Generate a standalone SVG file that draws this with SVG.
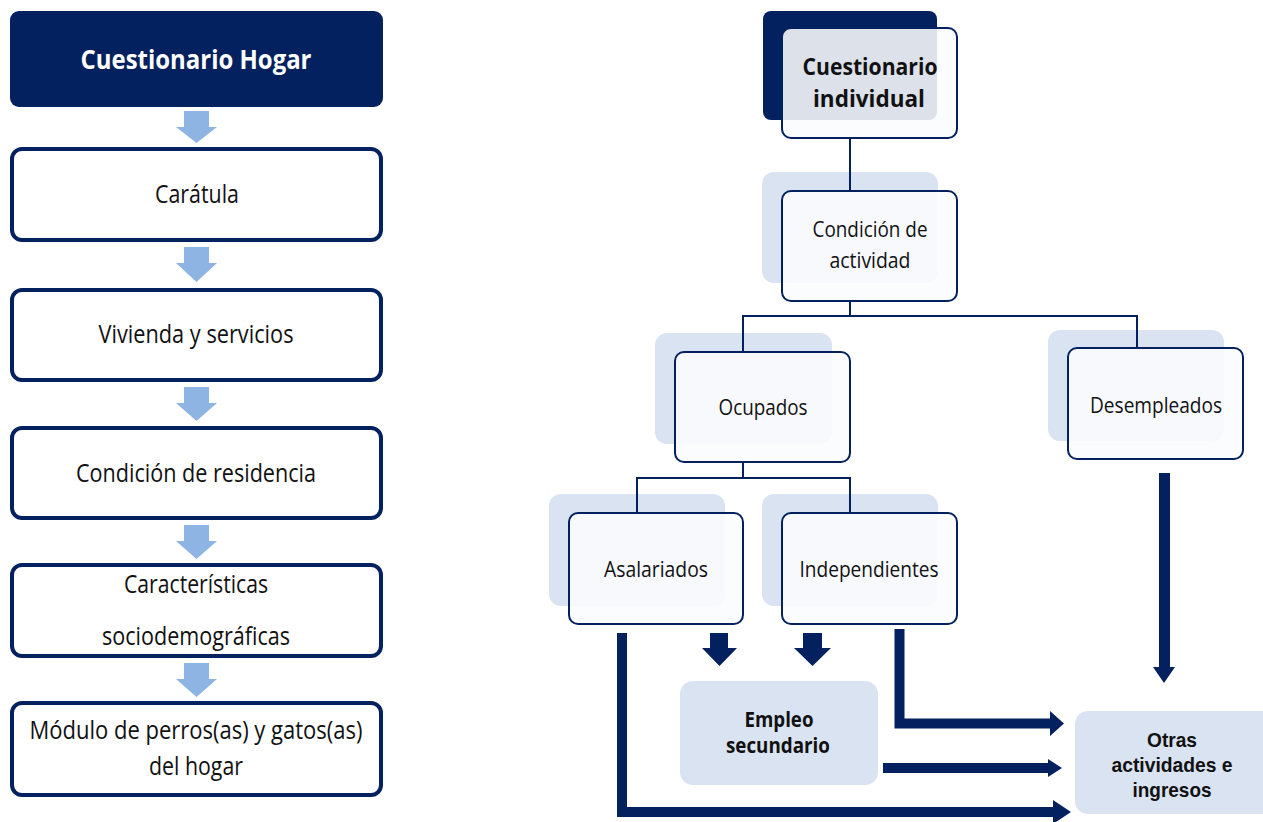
<svg xmlns="http://www.w3.org/2000/svg" width="1263" height="822" viewBox="0 0 1263 822">
<style>
  .t{font-family:"Open Sans","Noto Sans","Liberation Sans",sans-serif;fill:#111;text-anchor:middle}
  .b{font-weight:bold}
  .n{font-family:"Liberation Sans","Open Sans",sans-serif}
  .lbox{fill:#fff;stroke:#03215e;stroke-width:4}
  .back{fill:#dae3f1}
  .front{fill:#fbfcfe;fill-opacity:0.88;stroke:#03215e;stroke-width:2}
  .la{fill:#8eb4e3}
  .da{fill:#03215e}
  .con{fill:none;stroke:#03215e;stroke-width:2}
  .thick{fill:none;stroke:#03215e;stroke-width:10}
</style>
<rect width="1263" height="822" fill="#fff"/>

<!-- Left column -->
<g id="hogar">
  <rect x="10" y="11" width="373" height="96" rx="9" fill="#03215e"/>
  <text class="t b" x="196" y="69" font-size="27" style="fill:#fff" textLength="231" lengthAdjust="spacingAndGlyphs">Cuestionario Hogar</text>
</g>
<g id="caratula">
  <rect class="lbox" x="12" y="149" width="369" height="91" rx="10"/>
  <text class="t" x="197" y="203" font-size="25" textLength="84" lengthAdjust="spacingAndGlyphs">Carátula</text>
</g>
<g id="vivienda">
  <rect class="lbox" x="12" y="290" width="369" height="90" rx="10"/>
  <text class="t" x="196" y="343" font-size="25" textLength="195" lengthAdjust="spacingAndGlyphs">Vivienda y servicios</text>
</g>
<g id="residencia">
  <rect class="lbox" x="12" y="428" width="369" height="90" rx="10"/>
  <text class="t" x="196" y="482" font-size="25" textLength="240" lengthAdjust="spacingAndGlyphs">Condición de residencia</text>
</g>
<g id="sociodemograficas">
  <rect class="lbox" x="12" y="565" width="369" height="91" rx="10"/>
  <text class="t" x="196" y="593" font-size="25" textLength="144" lengthAdjust="spacingAndGlyphs">Características</text>
  <text class="t" x="196" y="645" font-size="25" textLength="188" lengthAdjust="spacingAndGlyphs">sociodemográficas</text>
</g>
<g id="modulo">
  <rect class="lbox" x="12" y="703" width="369" height="92" rx="10"/>
  <text class="t" x="196" y="739" font-size="25" textLength="333" lengthAdjust="spacingAndGlyphs">Módulo de perros(as) y gatos(as)</text>
  <text class="t" x="196" y="775" font-size="25" textLength="94" lengthAdjust="spacingAndGlyphs">del hogar</text>
</g>

<!-- Right tree nodes -->
<g id="individual">
  <rect x="763" y="11" width="174" height="109" rx="8" fill="#03215e"/>
  <rect class="front" x="782" y="28" width="175" height="110" rx="9"/>
  <text class="t b" x="870" y="75" font-size="23" textLength="135" lengthAdjust="spacingAndGlyphs">Cuestionario</text>
  <text class="t b" x="869" y="107" font-size="23" textLength="112" lengthAdjust="spacingAndGlyphs">individual</text>
</g>
<g id="condicion">
  <rect class="back" x="762" y="172" width="176" height="111" rx="12"/>
  <rect class="front" x="782" y="191" width="175" height="110" rx="9"/>
  <text class="t" x="870" y="237" font-size="22" textLength="115" lengthAdjust="spacingAndGlyphs">Condición de</text>
  <text class="t" x="870" y="268" font-size="22" textLength="81" lengthAdjust="spacingAndGlyphs">actividad</text>
</g>
<g id="ocupados">
  <rect class="back" x="655" y="333" width="177" height="111" rx="12"/>
  <rect class="front" x="675" y="352" width="175" height="110" rx="9"/>
  <text class="t" x="763" y="415" font-size="22" textLength="89" lengthAdjust="spacingAndGlyphs">Ocupados</text>
</g>
<g id="desempleados">
  <rect class="back" x="1048" y="330" width="176" height="111" rx="12"/>
  <rect class="front" x="1068" y="348" width="175" height="111" rx="9"/>
  <text class="t" x="1156" y="413" font-size="22" textLength="132" lengthAdjust="spacingAndGlyphs">Desempleados</text>
</g>
<g id="asalariados">
  <rect class="back" x="549" y="494" width="176" height="112" rx="12"/>
  <rect class="front" x="569" y="513" width="174" height="111" rx="9"/>
  <text class="t" x="656" y="577" font-size="22" textLength="104" lengthAdjust="spacingAndGlyphs">Asalariados</text>
</g>
<g id="independientes">
  <rect class="back" x="762" y="494" width="176" height="112" rx="12"/>
  <rect class="front" x="782" y="513" width="175" height="111" rx="9"/>
  <text class="t" x="869" y="577" font-size="22" textLength="139" lengthAdjust="spacingAndGlyphs">Independientes</text>
</g>
<g id="empleo">
  <rect class="back" x="680" y="681" width="198" height="104" rx="13"/>
  <text class="t b" x="779" y="727" font-size="21" textLength="69" lengthAdjust="spacingAndGlyphs">Empleo</text>
  <text class="t b" x="778" y="753" font-size="21" textLength="104" lengthAdjust="spacingAndGlyphs">secundario</text>
</g>
<g id="otras">
  <rect class="back" x="1075" y="711" width="200" height="103" rx="13"/>
  <text class="t b n" x="1172" y="747" font-size="21" textLength="50" lengthAdjust="spacingAndGlyphs">Otras</text>
  <text class="t b n" x="1172" y="772" font-size="21" textLength="121" lengthAdjust="spacingAndGlyphs">actividades e</text>
  <text class="t b n" x="1172" y="797" font-size="21" textLength="79" lengthAdjust="spacingAndGlyphs">ingresos</text>
</g>

<!-- Connectors -->
<g id="connectors">
  <!-- left flow arrows -->
  <polygon class="la" points="184,111 209,111 209,127 217,127 196.5,143 176,127 184,127"/>
  <polygon class="la" points="184,247 209,247 209,263 217,263 196.5,282 176,263 184,263"/>
  <polygon class="la" points="184,387 209,387 209,403 217,403 196.5,421 176,403 184,403"/>
  <polygon class="la" points="184,525 209,525 209,541 217,541 196.5,559 176,541 184,541"/>
  <polygon class="la" points="184,663 209,663 209,679 217,679 196.5,697 176,679 184,679"/>

  <!-- tree lines -->
  <path class="con" d="M850,139 V191"/>
  <path class="con" d="M850,301 V316 M743,352 V316 H1137 V348"/>
  <path class="con" d="M743,462 V478 M637,513 V478 H850 V513"/>

  <!-- block arrows to Empleo secundario -->
  <polygon class="da" points="710,633 728,633 728,648 737,648 719.5,666 702,648 710,648"/>
  <polygon class="da" points="803,633 822,633 822,648 831,648 812.5,666 794,648 803,648"/>

  <!-- Desempleados down -->
  <path class="thick" d="M1164.5,473 V669" style="stroke-width:11"/>
  <polygon class="da" points="1153,667 1175,667 1164,683"/>

  <!-- Independientes to Otras -->
  <path class="thick" d="M899.5,629 V723.5 H1052" style="stroke-linejoin:miter"/>
  <polygon class="da" points="1050,711 1064,723.5 1050,736"/>

  <!-- Empleo secundario to Otras -->
  <path class="thick" d="M883,768 H1050"/>
  <polygon class="da" points="1048,759 1062,768 1048,777"/>

  <!-- Asalariados to Otras -->
  <path class="thick" d="M622,633 V812 H1055" style="stroke-linejoin:miter"/>
  <polygon class="da" points="1053,800 1071,812 1053,824"/>
</g>
</svg>
